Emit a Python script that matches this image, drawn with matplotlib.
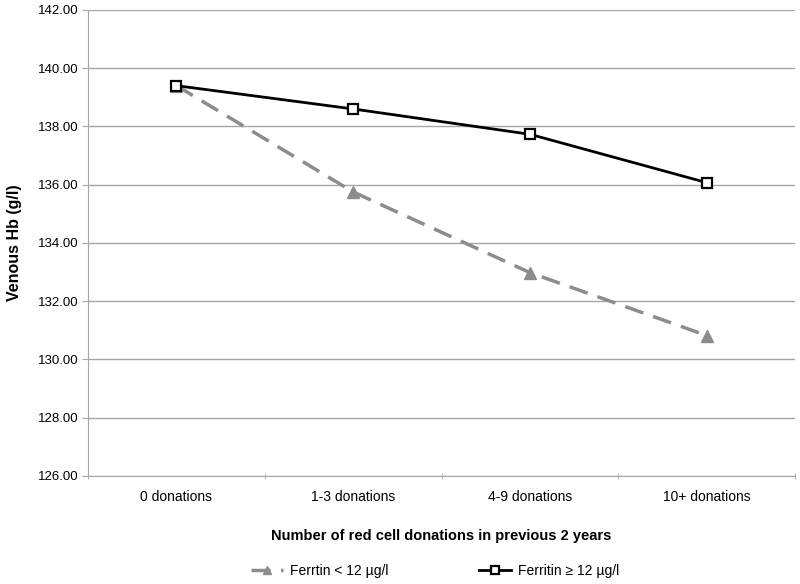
import matplotlib
matplotlib.use('Agg')
import matplotlib.pyplot as plt
from matplotlib.ticker import FormatStrFormatter, FixedLocator
import numpy as np

plt.rcParams['font.family'] = ['Liberation Sans', 'DejaVu Sans']

categories = ['0 donations', '1-3 donations', '4-9 donations', '10+ donations']
ferritin_low = [139.40, 135.75, 132.98, 130.82]
ferritin_high = [139.40, 138.60, 137.73, 136.07]
yticks = [126, 128, 130, 132, 134, 136, 138, 140, 142]

fig = plt.figure(figsize=(8, 5.84), dpi=100)
ax = fig.add_axes([0.11, 0.185, 0.884, 0.798])

x = np.arange(len(categories))
ax.plot(x, ferritin_low, color='#8c8c8c', lw=2.5, ls=(0, (5.5, 3)), marker='^',
        ms=8, mfc='#8c8c8c', mec='#8c8c8c', label='Ferrtin < 12 µg/l', zorder=3)
ax.plot(x, ferritin_high, color='black', lw=2.0, marker='s', ms=7,
        mfc='white', mec='black', mew=1.6, label='Ferritin ≥ 12 µg/l', zorder=4)

ax.set_ylim(126, 142)
ax.set_xlim(-0.5, len(categories) - 0.5)
ax.set_yticks(yticks)
ax.yaxis.set_major_formatter(FormatStrFormatter('%.2f'))
ax.yaxis.grid(True, color='#a6a6a6', lw=1)
ax.set_axisbelow(True)

ax.set_xticks(x)
ax.set_xticklabels(categories)
ax.xaxis.set_minor_locator(FixedLocator(np.arange(-0.5, len(categories), 1.0)))
ax.tick_params(axis='x', which='major', length=0, pad=10, labelsize=10)
ax.tick_params(axis='x', which='minor', length=5, direction='inout', color='#a6a6a6')
ax.tick_params(axis='y', length=4, color='#a6a6a6', labelsize=9.5, pad=3)

for s in ['top', 'right']:
    ax.spines[s].set_visible(False)
ax.spines['left'].set_color('#a6a6a6')
ax.spines['bottom'].set_color('#a6a6a6')

ax.set_ylabel('Venous Hb (g/l)', fontsize=11.5, fontweight='bold')
ax.yaxis.set_label_coords(-0.093, 0.5)
ax.set_xlabel('Number of red cell donations in previous 2 years', fontsize=10.5,
              fontweight='bold')
ax.xaxis.set_label_coords(0.5, -0.113)

fig.legend(loc='center', bbox_to_anchor=(0.544, 0.022), ncol=2, frameon=False,
           fontsize=10, columnspacing=6.5, handlelength=2.3, handletextpad=0.5,
           markerscale=0.75)

plt.savefig('out.png', dpi=100)
plt.close()
